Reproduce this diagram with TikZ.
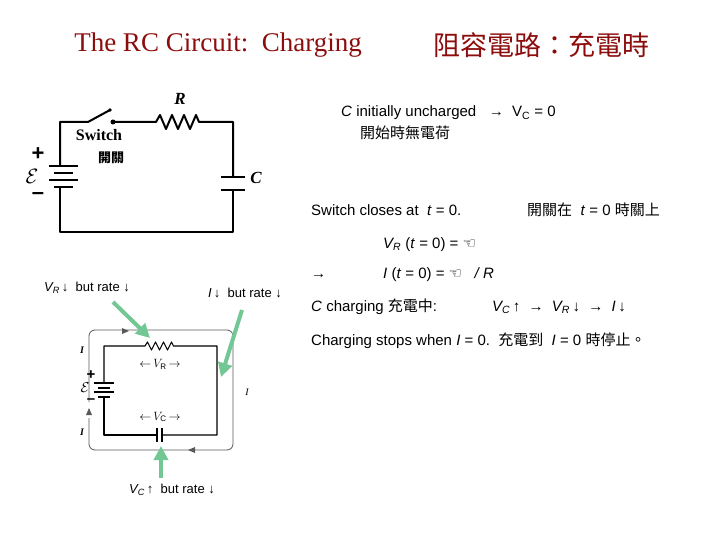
\documentclass[tikz,border=0pt]{standalone}
\usepackage{fontspec}
\setmainfont{Liberation Sans}
\newfontfamily\titlefont{Liberation Serif}
\newfontfamily\cjk{Noto Sans CJK TC}
\newfontfamily\sym{DejaVu Sans}
\usetikzlibrary{arrows.meta,positioning}
\definecolor{title_c}{rgb}{0.55,0.05,0.05}
\definecolor{hint_c}{rgb}{0.45,0.78,0.58}
\begin{document}
\begin{tikzpicture}[
    x=1pt, y=-1pt,
    wire/.style = {line width=2pt, line join=round},
    thin wire/.style = {line width=1.1pt, line join=round},
    loop/.style = {line width=0.8pt, gray!70!black, rounded corners=6pt},
    txt/.style = {anchor=base west, inner sep=0pt, font=\fontsize{15}{18}\selectfont},
    lbl/.style = {inner sep=0pt, font=\fontsize{13}{15}\selectfont},
    hint/.style = {line width=4pt, hint_c, -{Triangle[length=14pt,width=14pt]}},
  ]
  \useasboundingbox (0,0) rectangle (720,540);
  % titles
  \node[text=title_c, font=\titlefont\fontsize{27}{28}\selectfont] (ttl) at (218,45) {The RC Circuit:\ \ Charging};
  \node[text=title_c, font=\cjk\fontsize{27}{28}\selectfont] (cttl) at (541,45) {阻容電路：充電時};

  % circuit 1
  \coordinate (b1) at (60,166);
  \coordinate (b2) at (60,187);
  \coordinate (sw) at (88,122);
  \coordinate (swc) at (113,122);
  \coordinate (r1) at (156,122);
  \coordinate (r2) at (203,122);
  \coordinate (c1) at (233,177);
  \coordinate (c2) at (233,190);
  \draw[wire] (b1) -- (60,122) -- (sw) -- (110,110);
  \fill (swc) circle (2.5pt);
  \fill (110,110) circle (1.8pt);
  \draw[wire] (swc) -- (r1)
    -- ++(4,-7) -- ++(6,14) -- ++(6,-14) -- ++(6,14) -- ++(6,-14) -- ++(6,14) -- ++(6,-14) -- ++(3,7)
    -- (r2) -- (233,122) -- (c1);
  \draw[wire] (221,177) -- (245,177);
  \draw[wire] (221,190) -- (245,190);
  \draw[wire] (c2) -- (233,232) -- (60,232) -- (b2);
  \foreach \y/\l in {166/0, 173/5, 180/0, 187/5}
    \draw[wire] (49+\l,\y) -- (78-\l,\y);
  \node[font=\bfseries\itshape\titlefont\fontsize{17}{18}\selectfont] (rlab) at (180,99) {R};
  \node[font=\bfseries\itshape\titlefont\fontsize{17}{18}\selectfont] (clab) at (256,178) {C};
  \node[font=\bfseries\titlefont\fontsize{16}{18}\selectfont] (swlab) at (99,135) {Switch};
  \node[font=\bfseries\cjk\fontsize{13}{14}\selectfont] (swcjk) at (111,158) {開關};
  \node[font=\bfseries\fontsize{22}{22}\selectfont] at (38,154) {+};
  \node[font=\titlefont\fontsize{20}{20}\selectfont] at (32,176) {$\mathcal{E}$};
  \node[font=\bfseries\fontsize{22}{22}\selectfont] at (38,196) {--};

  % circuit 2
  \draw[loop] (89,402) -- (89,330) -- (233,330) -- (233,450) -- (89,450) -- (89,418);
  \fill[gray!70!black] (129,331) -- (122,328) -- (122,334) -- cycle;
  \fill[gray!70!black] (89,408) -- (86,415) -- (92,415) -- cycle;
  \fill[gray!70!black] (188,450) -- (195,447) -- (195,453) -- cycle;
  \draw[thin wire] (104,383) -- (104,346) -- (145,346)
    -- ++(2.5,-4) -- ++(4,8) -- ++(4,-8) -- ++(4,8) -- ++(4,-8) -- ++(4,8) -- ++(4,-8) -- ++(2,4)
    -- (217,346) -- (217,435) -- (162,435);
  \draw[thin wire] (157,435) -- (104,435) -- (104,397);
  \draw[thin wire] (157,428) -- (157,442);
  \draw[thin wire] (162,428) -- (162,442);
  \foreach \y/\l in {383/0, 388/4, 392/0, 397/4}
    \draw[thin wire] (94+\l,\y) -- (114-\l,\y);
  \node[lbl, font=\bfseries\titlefont\fontsize{12}{14}\selectfont] (vr) at (160,364) {$\leftarrow$\,$V_{\mathrm{R}}$\,$\rightarrow$};
  \node[lbl, font=\bfseries\titlefont\fontsize{12}{14}\selectfont] (vc) at (160,417) {$\leftarrow$\,$V_{\mathrm{C}}$\,$\rightarrow$};
  \node[lbl, font=\bfseries\itshape\titlefont] at (82,350) {I};
  \node[lbl, font=\bfseries\itshape\titlefont] at (82,432) {I};
  \node[lbl, font=\itshape\titlefont] at (247,392) {I};
  \node[lbl, font=\bfseries\fontsize{15}{15}\selectfont] at (91,375) {+};
  \node[lbl, font=\titlefont\fontsize{14}{14}\selectfont] at (85,388) {$\mathcal{E}$};
  \node[lbl, font=\bfseries\fontsize{15}{15}\selectfont] at (91,401) {--};
  \draw[hint] (113,302) -- (150,338);
  \draw[hint] (242,310) -- (221,377);
  \draw[hint] (161,478) -- (161,446);
  \node[lbl] (h1) at (87,288) {\textit{V\textsubscript{R}}\,↓\ \ but rate ↓};
  \node[lbl] (h2) at (245,293) {\textit{I}\,↓\ \ but rate ↓};
  \node[lbl] (h3) at (172,490) {\textit{V\textsubscript{C}}\,↑\ \ but rate ↓};

  % right text
  \node[txt] (l1) at (341,117) {\textit{C} initially uncharged\ \ \ →\ \ V\textsubscript{C} = 0};
  \node[txt, font=\cjk\fontsize{15}{18}\selectfont] (l1b) at (360,139) {開始時無電荷};
  \node[txt] (l2) at (311,215) {Switch closes at\ \ \textit{t} = 0.};
  \node[txt] (l2b) at (527,215) {{\cjk 開關在}\ \ \textit{t} = 0 {\cjk 時關上}};
  \node[txt] (l3) at (383,248) {\textit{V\textsubscript{R}} (\textit{t} = 0) = {\sym ☜}};
  \node[txt] (l4a) at (311,278) {→};
  \node[txt] (l4) at (383,278) {\textit{I} (\textit{t} = 0) = {\sym ☜}\ \ \ \textit{/ R}};
  \node[txt] (l5) at (311,311) {\textit{C} charging {\cjk 充電中}:};
  \node[txt] (l5b) at (492,311) {\textit{V\textsubscript{C}}\,↑\ \ →\ \ \textit{V\textsubscript{R}}\,↓\ \ →\ \ \textit{I}\,↓};
  \node[txt] (l6) at (311,345) {Charging stops when \textit{I} = 0.\ \ {\cjk 充電到}\ \ \textit{I} = 0 {\cjk 時停止。}};
\end{tikzpicture}
\end{document}
